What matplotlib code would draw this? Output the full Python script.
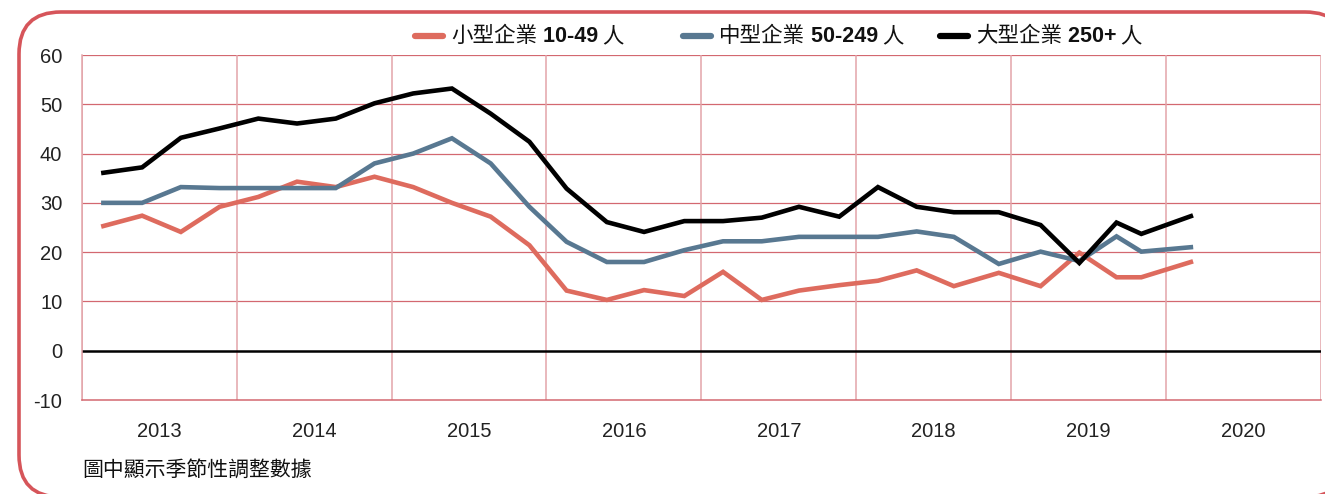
import matplotlib
matplotlib.use('Agg')
import matplotlib.pyplot as plt
from matplotlib.patches import FancyBboxPatch
from matplotlib.lines import Line2D

plt.rcParams['font.family'] = ['Liberation Sans', 'Noto Sans CJK TC']

# survey dates (decimal years)
dates = [2013.14, 2013.39, 2013.64, 2013.89, 2014.14, 2014.39, 2014.64, 2014.89,
         2015.14, 2015.39, 2015.64, 2015.89, 2016.13, 2016.39, 2016.63, 2016.89,
         2017.14, 2017.39, 2017.63, 2017.89, 2018.14, 2018.39, 2018.63, 2018.92,
         2019.19, 2019.44, 2019.68, 2019.84, 2020.16]
small = [25.3, 27.4, 24.1, 29.2, 31.2, 34.3, 33.2, 35.3, 33.2, 30.0, 27.2, 21.4,
         12.2, 10.3, 12.3, 11.1, 16.0, 10.3, 12.2, 13.3, 14.2, 16.3, 13.1, 15.8,
         13.1, 19.9, 14.9, 14.9, 18.0]
medium = [30.0, 30.0, 33.2, 33.0, 33.0, 33.0, 33.0, 38.0, 40.0, 43.1, 38.0, 29.2,
          22.1, 18.0, 18.0, 20.4, 22.2, 22.2, 23.1, 23.1, 23.1, 24.2, 23.1, 17.6,
          20.1, 18.2, 23.2, 20.1, 21.0]
large = [36.1, 37.2, 43.2, 45.1, 47.1, 46.1, 47.1, 50.2, 52.2, 53.2, 48.1, 42.4,
         32.9, 26.1, 24.1, 26.3, 26.3, 27.0, 29.2, 27.2, 33.2, 29.2, 28.1, 28.1,
         25.5, 17.8, 26.0, 23.7, 27.3]
years = [2013, 2014, 2015, 2016, 2017, 2018, 2019, 2020]
yticks = [-10, 0, 10, 20, 30, 40, 50, 60]

c_small = '#de6b5e'
c_med = '#587891'
c_large = '#000000'
c_border = '#d6555a'

fig = plt.figure(figsize=(13.25, 4.94), dpi=100)

# background axes in pixel units for frame, legend and note
bg = fig.add_axes([0, 0, 1, 1], zorder=0)
bg.set_xlim(0, 1325)
bg.set_ylim(494, 0)
bg.axis('off')
bg.add_patch(FancyBboxPatch((19, 12), 1328, 485, boxstyle='round,pad=0,rounding_size=42',
                            fc='white', ec=c_border, lw=2.6))

ax = fig.add_axes([81.7/1325, 1-400/494, (1321-81.7)/1325, 345/494], zorder=1)
ax.patch.set_alpha(0)

ax.plot(dates, small, color=c_small, lw=3.3, solid_joinstyle='miter', zorder=3)
ax.plot(dates, medium, color=c_med, lw=3.3, solid_joinstyle='miter', zorder=4)
ax.plot(dates, large, color=c_large, lw=3.3, solid_joinstyle='miter', zorder=5)
ax.axhline(0, color='black', lw=1.8, zorder=2)

ax.set_xlim(2013, 2021)
ax.set_ylim(-10, 60)
ax.set_yticks(yticks)
ax.set_yticklabels([str(v) for v in yticks])
ax.set_xticks(years + [2021])
ax.set_xticklabels([])
ax.set_xticks([y + 0.5 for y in years], minor=True)
ax.set_xticklabels([str(y) for y in years], minor=True)
ax.tick_params(axis='both', which='both', length=0, labelsize=14.5, colors='#222222')
ax.tick_params(axis='y', pad=14)
ax.tick_params(axis='x', which='minor', pad=16)
for y in yticks[1:]:
    if y != 0:
        ax.axhline(y, color='#d36870', lw=0.9, zorder=1)
for x in years + [2021]:
    ax.axvline(x, color='#e3a4a9', lw=1.1, zorder=1)
for s in ['top', 'right']:
    ax.spines[s].set_visible(False)
ax.spines['left'].set_color('#e3a4a9')
ax.spines['left'].set_linewidth(1.1)
ax.spines['bottom'].set_color('#d36870')
ax.spines['bottom'].set_linewidth(1.1)

# legend with partly bold labels
entries = [
    (415, c_small, '小型企業', '10-49'),
    (683, c_med, '中型企業', '50-249'),
    (940, c_large, '大型企業', '250+'),
]
for x0, col, name, rng in entries:
    bg.add_line(Line2D([x0, x0 + 28], [36, 36], color=col, lw=4.5, solid_capstyle='round'))
    t1 = bg.text(x0 + 36, 36, name, fontsize=15.5, va='center', ha='left',
                 family=['Noto Sans CJK TC'], color='#111111')
    t2 = bg.annotate(' ' + rng, xy=(1, 0.5), xycoords=t1, va='center', ha='left',
                     fontsize=15.5, fontweight='bold', color='#111111')
    bg.annotate(' 人', xy=(1, 0.5), xycoords=t2, va='center', ha='left',
                fontsize=15.5, family=['Noto Sans CJK TC'], color='#111111')

bg.text(82, 470, '圖中顯示季節性調整數據', fontsize=15, va='center', ha='left',
        family=['Noto Sans CJK TC'], color='#111111')

fig.savefig('out.png', dpi=100)
